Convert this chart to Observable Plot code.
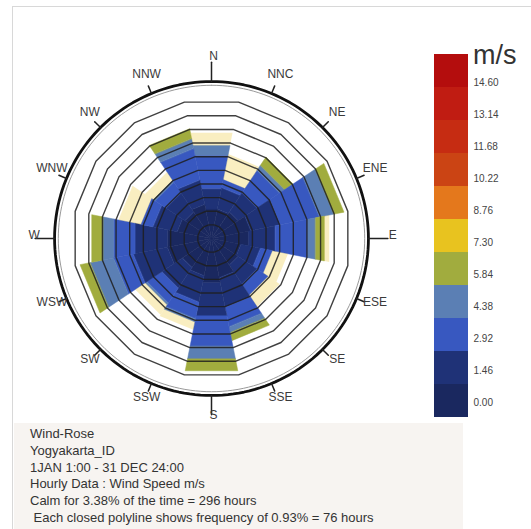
<!DOCTYPE html>
<html><head><meta charset="utf-8">
<script src="https://cdn.jsdelivr.net/npm/d3@7"></script>
<script src="https://cdn.jsdelivr.net/npm/@observablehq/plot@0.6"></script>
<style>
html,body{margin:0;padding:0;background:#fff;width:531px;height:529px;overflow:hidden;font-family:"Liberation Sans",Arial,sans-serif;}
#frame{position:absolute;left:12px;top:6px;width:519px;height:523px;border-left:1px solid #d8d8d8;border-top:1px solid #d8d8d8;}
#rose{position:absolute;left:1px;top:28px;}
#legend{position:absolute;left:434px;top:52px;}
#legendTicks{position:absolute;left:434px;top:66px;}
#unit{position:absolute;left:473px;top:40px;font-size:27px;line-height:30px;color:#333;}
#caption{position:absolute;left:14px;top:423px;width:449px;height:106px;background:#f7f4f1;color:#333;font-size:13px;line-height:16.8px;padding-top:3px;box-sizing:border-box;}
#caption div{white-space:pre;padding-left:16px;}
</style>
</head><body>
<div id="frame"></div>
<div id="rose"></div>
<div id="unit">m/s</div>
<div id="legend"></div>
<div id="legendTicks"></div>
<div id="caption"></div>
<script>
// ---- data ----
const directions = ["N","NNE","NE","ENE","E","ESE","SE","SSE","S","SSW","SW","WSW","W","WNW","NW","NNW"];
const dirLabels  = ["N","NNC","NE","ENE","E","ESE","SE","SSE","S","SSW","SW","WSW","W","WNW","NW","NNW"];
const speedBins  = ["0.00","1.46","2.92","4.38","5.84","7.30","8.76","10.22","11.68","13.14","14.60"];
const binColors  = ["#1a285f","#1f3277","#3858c0","#5b7fb4","#a1ac3e","#e8c31f","#e4781c","#cb4414","#c62c12","#c01c12","#b40d0d"];
// frequency (%) per direction for each speed class
const freq000 = [2.01,2.01,2.14,2.68,2.54,2.01,2.14,2.68,3.01,2.54,2.34,3.01,3.01,2.34,2.14,2.34];
const freq146 = [1.40,1.47,1.54,2.01,1.81,1.34,1.54,2.01,2.27,1.81,1.67,2.34,2.21,1.67,1.54,1.67];
const freq292 = [2.27,0.54,1.81,2.68,2.21,0.80,0.87,1.34,2.07,1.14,1.20,1.34,1.47,0.80,0.87,2.14];
const freq438 = [0.67,0.00,0.40,1.00,0.54,0.00,0.00,0.40,0.87,0.20,0.13,1.61,0.74,0.00,0.13,0.67];
const freq584 = [0.00,0.00,0.67,0.67,0.60,0.00,0.00,0.54,0.80,0.00,0.00,0.67,0.74,0.00,0.00,0.67];
const faintTip = [0.87,1.74,0.00,0.00,0.33,1.07,0.94,0.00,0.00,0.54,0.80,0.00,0.00,1.54,0.67,0.00];
const ringStep = 0.93;      // % per closed polyline
const ringCount = 10;
const outerCircle = 10.5;   // %
const captionLines = [
  "Wind-Rose",
  "Yogyakarta_ID",
  "1JAN 1:00 - 31 DEC 24:00",
  "Hourly Data : Wind Speed m/s",
  "Calm for 3.38% of the time = 296 hours",
  " Each closed polyline shows frequency of 0.93% = 76 hours"
];

// ---- geometry helpers ----
const rad = Math.PI / 180;
const half = 11.25;
const pt = (r, deg) => [r * Math.sin(deg * rad), r * Math.cos(deg * rad)];
const series = [freq000, freq146, freq292, freq438, freq584];

const segs = [], faint = [];
directions.forEach((d, i) => {
  const a = i * 22.5;
  let r0 = 0;
  series.forEach((s, k) => {
    const r1 = r0 + s[i];
    if (s[i] > 0) segs.push({type: "Feature", properties: {bin: speedBins[k], dir: d},
      geometry: {type: "Polygon", coordinates: [[pt(r0, a - half), pt(r1, a - half), pt(r1, a + half), pt(r0, a + half), pt(r0, a - half)]]}});
    r0 = r1;
  });
  if (faintTip[i] > 0) {
    const r1 = r0 + faintTip[i];
    faint.push({type: "Feature", properties: {dir: d},
      geometry: {type: "Polygon", coordinates: [[pt(r0, a - half), pt(r1, a - half), pt(r1, a + half), pt(r0, a + half), pt(r0, a - half)]]}});
  }
});

const rings = d3.range(1, ringCount + 1).map(k => ({type: "Feature", properties: {k},
  geometry: {type: "LineString", coordinates: d3.range(0, 17).map(j => pt(k * ringStep, j * 22.5 + half))}}));

const circle = (r) => ({type: "LineString", coordinates: d3.range(0, 361, 2).map(a => pt(r, a))});

const ticks = directions.map((d, i) => ({type: "Feature", properties: {},
  geometry: {type: "LineString", coordinates: [pt(outerCircle, i * 22.5), pt(i % 4 === 0 ? outerCircle + 1.3 : outerCircle + 0.55, i * 22.5)]}}));

const labels = dirLabels.map((t, i) => {
  const r = i % 4 === 0 ? 12.0 : 11.7;
  const [x, y] = pt(r, i * 22.5);
  return {t, x, y};
});

const D = 14.05;
const rose = Plot.plot({
  width: 420, height: 420, margin: 0,
  style: {background: "transparent", fontFamily: "Liberation Sans, Arial, sans-serif"},
  projection: {type: "reflect-y", domain: {type: "Polygon", coordinates: [[[-D, -D], [D, -D], [D, D], [-D, D], [-D, -D]]]}},
  color: {type: "ordinal", domain: speedBins, range: binColors},
  marks: [
    Plot.geo(segs, {fill: d => d.properties.bin, stroke: d => d.properties.bin, strokeWidth: 0.5}),
    Plot.geo(faint, {fill: binColors[5], fillOpacity: 0.28}),
    Plot.geo(rings, {stroke: "#1e1e1e", strokeWidth: 1.4, fill: "none", strokeOpacity: 0.85}),
    Plot.geo([circle(outerCircle - 0.25)], {stroke: "#999", strokeWidth: 1, fill: "none"}),
    Plot.geo([circle(outerCircle)], {stroke: "#111", strokeWidth: 2.8, fill: "none"}),
    Plot.geo(ticks, {stroke: "#222", strokeWidth: 1.5}),
    Plot.text(labels, {x: "x", y: "y", text: "t", fontSize: 12, fill: "#3a3a3a", dx: 2, dy: -3})
  ]
});
document.getElementById("rose").append(rose);

// colour bar
const legend = Plot.plot({
  width: 34, height: 366, margin: 0,
  style: {background: "transparent"},
  y: {type: "band", domain: speedBins.slice().reverse(), padding: 0, axis: null},
  color: {type: "ordinal", domain: speedBins, range: binColors},
  marks: [Plot.cell(speedBins, {y: d => d, fill: d => d})]
});
document.getElementById("legend").append(legend);

// colour bar labels
const legendTicks = Plot.plot({
  width: 96, height: 352, marginLeft: 0, marginRight: 62, marginTop: 0, marginBottom: 0,
  style: {background: "transparent", fontSize: "10px", fontFamily: "Liberation Sans, Arial, sans-serif", color: "#444"},
  y: {type: "band", domain: speedBins.slice().reverse(), padding: 0, label: null},
  marks: [Plot.axisY({anchor: "right", tickSize: 0, tickPadding: 5, label: null})]
});
document.getElementById("legendTicks").append(legendTicks);

const cap = document.getElementById("caption");
captionLines.forEach(l => { const d = document.createElement("div"); d.textContent = l; cap.append(d); });
</script>
</body></html>
